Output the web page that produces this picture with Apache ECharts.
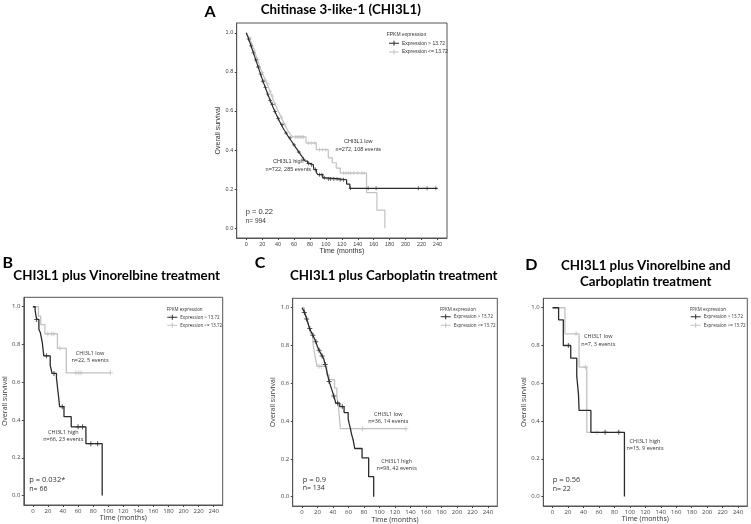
<!DOCTYPE html>
<html><head><meta charset="utf-8">
<script src="https://cdn.jsdelivr.net/npm/echarts@6/dist/echarts.min.js"></script>
<style>html,body{margin:0;padding:0;background:#fff}#c{width:751px;height:524px}</style>
</head><body><div id="c"></div>
<script>
// ---------- data ----------
const xTicks = [0,20,40,60,80,100,120,140,160,180,200,220,240];
const yTicks = [0,0.2,0.4,0.6,0.8,1.0];
const legendNames = ['Expression > 13.72','Expression <= 13.72'];
const legendTitle = 'FPKM expression';
const xName = 'Time (months)';
const yName = 'Overall survival';
const panelLetters = ['A','B','C','D'];
const panelTitles = ['Chitinase 3-like-1 (CHI3L1)','CHI3L1 plus Vinorelbine treatment','CHI3L1 plus Carboplatin treatment','CHI3L1 plus Vinorelbine and\nCarboplatin treatment'];

// Panel A
const aHigh = [[0,1],[1,0.99],[2,0.98],[3,0.967],[4,0.956],[5,0.945],[6,0.933],[7,0.921],[8,0.908],[9,0.897],[10,0.885],[11,0.873],[12,0.861],[13,0.849],[14,0.837],[15,0.825],[16,0.812],[17,0.8],[18,0.788],[19,0.776],[20,0.764],[21,0.752],[22,0.741],[23,0.73],[24,0.719],[25,0.708],[26,0.697],[27,0.686],[28,0.676],[29,0.665],[30,0.654],[32,0.634],[34,0.615],[36,0.597],[38,0.579],[40,0.562],[42,0.545],[44,0.53],[46,0.514],[48,0.5],[50,0.487],[52,0.474],[54,0.462],[56,0.45],[58,0.438],[60,0.426],[62,0.414],[64,0.402],[66,0.39],[68,0.378],[70,0.366],[72,0.354],[74,0.343],[77,0.332],[80,0.325],[84,0.32],[85,0.3],[88,0.285],[90,0.274],[96,0.258],[100,0.252],[118,0.248],[126,0.226],[130,0.204],[240,0.204]];
const aLow = [[0,1],[2,0.986],[4,0.972],[6,0.953],[8,0.933],[10,0.91],[12,0.886],[14,0.864],[16,0.84],[18,0.816],[20,0.796],[22,0.776],[24,0.757],[26,0.739],[28,0.72],[30,0.699],[32,0.676],[34,0.655],[36,0.636],[38,0.618],[40,0.6],[42,0.584],[44,0.567],[46,0.55],[48,0.532],[50,0.516],[52,0.501],[54,0.489],[56,0.478],[58,0.467],[75,0.436],[88,0.402],[103,0.36],[108,0.335],[113,0.308],[118,0.282],[151,0.182],[164,0.093],[174,0]];
const aHighCensor = [3,6,9,12,15,18,21,24,27,30,33,36,40,45,50,55,60,66,72,78,82,87,92,95,98,103,106,110,114,118,122,131,153,163,216,227,238];
const aLowCensor = [5,10,14,20,24,27,30,33,36,44,48,62,64,66,68,70,72,78,82,86,92,96,100,122,125,128,131,135,140,145,148];
const aLowLabel = ['CHI3L1 low','n=272, 108 events'];
const aHighLabel = ['CHI3L1 high','n=722, 285 events'];
const aP = 'p = 0.22', aN = 'n= 994';

// Panel B
const bHigh = [[0,1],[3,0.98],[5,0.933],[8,0.88],[10,0.862],[12.5,0.81],[14.5,0.74],[23,0.69],[25.5,0.647],[31.3,0.624],[32.5,0.58],[34,0.527],[35.5,0.471],[41.3,0.418],[50.9,0.364],[70.4,0.275],[92,0]];
const bLow = [[0,1],[7.4,0.95],[10.4,0.905],[16,0.857],[32.6,0.78],[44.3,0.65],[103,0.65]];
const bHighCensor = [5,18,28,39,60,66,77,86];
const bLowCensor = [20,25,28,36,57,61,64,103];
const bLowLabel = ['CHI3L1 low','n=22, 5 events'];
const bHighLabel = ['CHI3L1 high','n=66, 23 events'];
const bP = 'p = 0.032*', bN = 'n= 66';

// Panel C
const cHigh = [[0,1],[1,0.993],[2,0.986],[3,0.975],[4,0.965],[5,0.955],[6,0.94],[7,0.93],[8,0.915],[9,0.9],[10,0.89],[11,0.88],[12,0.872],[13,0.862],[14,0.854],[15,0.845],[16,0.837],[17,0.828],[18,0.82],[19,0.806],[20,0.793],[21,0.784],[22,0.775],[24,0.76],[26,0.745],[28,0.73],[29,0.714],[30,0.7],[31,0.682],[32,0.665],[33,0.645],[34,0.628],[35,0.61],[36,0.6],[37,0.585],[38,0.572],[39,0.56],[40,0.547],[41,0.533],[42,0.52],[43.5,0.495],[48.7,0.477],[54.3,0.445],[59.6,0.41],[61,0.385],[62.5,0.36],[64,0.33],[66,0.3],[68,0.255],[77.5,0.205],[86,0.106],[92.5,0]];
const cLow = [[0,1],[3,0.985],[5,0.96],[7,0.93],[9,0.9],[11,0.865],[14,0.82],[15.5,0.775],[17.5,0.73],[19.5,0.69],[32,0.645],[35,0.62],[42,0.574],[45,0.53],[47,0.48],[49.5,0.36],[134,0.36]];
const cHighCensor = [3,6,10,14,18,22,26,30,35,41,46,52];
const cLowCensor = [22,25,78,134];
const cLowLabel = ['CHI3L1 low','n=36, 14 events'];
const cHighLabel = ['CHI3L1 high','n=98, 42 events'];
const cP = 'p = 0.9', cN = 'n= 134';

// Panel D
const dHigh = [[0,1],[7.8,0.936],[13.9,0.8],[23.5,0.733],[31.3,0.636],[33.5,0.544],[34.3,0.456],[49.6,0.34],[93,0]];
const dLow = [[0,1],[16,0.862],[34.3,0.686],[44.3,0.34],[57.4,0.34]];
const dHighCensor = [20.4,68,85.6];
const dLowCensor = [30.4,42.6,57.4];
const dLowLabel = ['CHI3L1 low','n=7, 3 events'];
const dHighLabel = ['CHI3L1 high','n=15, 9 events'];
const dP = 'p = 0.56', dN = 'n= 22';

// ---------- styles / layout ----------
const DARK = '#2b2b2b', LIGHT = '#c2c2c2', BORDER = '#555', TXT = '#333';
const PLUS = 'path://M4,0h2v4h4v2h-4v4h-2v-4h-4v-2h4z';
const LEG_ICON = 'path://M0,4h20v2h-20z M9,0h2v10h-2z';

const panels = [
  {high:aHigh, low:aLow, hc:aHighCensor, lc:aLowCensor, lowLab:aLowLabel, highLab:aHighLabel, p:aP, n:aN,
   grid:{left:236.7,top:23,width:210.3,height:215}, font:'Liberation Sans', tick:5.5, yGap:12.5, xGap:8.5, lw:1.2, cs:4, legFont:5,
   legTitle:[386.7,35], legPos:[389,40.8], legGap:3.7, lowAt:[358.3,145.7], highAt:[288.3,165.7], lineH:8, pAt:[245.7,212.3], nAt:[245.7,221.7], pSize:7.5, nSize:6.5,
   letterAt:[210,11.7], titleAt:[340.8,9.5]},
  {high:bHigh, low:bLow, hc:bHighCensor, lc:bLowCensor, lowLab:bLowLabel, highLab:bHighLabel, p:bP, n:bN,
   grid:{left:20.7,top:297.3,width:202,height:207.7}, font:'Open Sans', tick:6, yGap:11.2, xGap:8, lw:1.3, cs:5, legFont:4.5,
   legTitle:[166.7,310], legPos:[167.3,314.8], legGap:3, lowAt:[90,356.7], highAt:[63.3,435.7], lineH:7, pAt:[29.3,480], nAt:[29.3,489], pSize:7.5, nSize:7,
   letterAt:[7.7,263], titleAt:[116.7,275.5]},
  {high:cHigh, low:cLow, hc:cHighCensor, lc:cLowCensor, lowLab:cLowLabel, highLab:cHighLabel, p:cP, n:cN,
   grid:{left:292.7,top:298.3,width:204.6,height:208.4}, font:'Open Sans', tick:6, yGap:10.9, xGap:6.5, lw:1.3, cs:5, legFont:4.5,
   legTitle:[440,310], legPos:[440.7,314.2], legGap:3.6, lowAt:[388.3,418.3], highAt:[396.7,465], lineH:6.8, pAt:[302.7,480], nAt:[302.7,488], pSize:7.5, nSize:7,
   letterAt:[260,263], titleAt:[393.8,275.5]},
  {high:dHigh, low:dLow, hc:dHighCensor, lc:dLowCensor, lowLab:dLowLabel, highLab:dHighLabel, p:dP, n:dN,
   grid:{left:543.3,top:298.3,width:204,height:207.7}, font:'Open Sans', tick:6, yGap:10.8, xGap:7, lw:1.3, cs:5, legFont:4.5,
   legTitle:[690,310], legPos:[690.7,314.2], legGap:3.6, lowAt:[598.3,340.7], highAt:[645,445], lineH:7.6, pAt:[552.7,480], nAt:[552.7,488.7], pSize:7.5, nSize:7,
   letterAt:[531.3,264.7], titleAt:[645.8,273.5]}
];

function survAt(curve, t){
  let s = curve[0][1];
  for (const pt of curve){ if (pt[0] <= t) s = pt[1]; else break; }
  return s;
}

const grids = [], xAxes = [], yAxes = [], series = [], legends = [], graphics = [];
panels.forEach((P, i) => {
  grids.push(Object.assign({show:true, borderColor:BORDER, borderWidth:1, backgroundColor:'transparent', containLabel:false}, P.grid));
  xAxes.push({type:'value', gridIndex:i, min:-12, max:252,
    name:xName, nameLocation:'middle', nameGap:P.xGap, nameTextStyle:{fontSize:7, color:TXT, fontFamily:P.font},
    axisLine:{show:true, onZero:false, lineStyle:{color:BORDER}},
    axisTick:{show:true, length:2, customValues:xTicks, lineStyle:{color:'#444'}},
    axisLabel:{customValues:xTicks, fontSize:P.tick, color:'#444', margin:3, fontFamily:P.font},
    splitLine:{show:false}});
  yAxes.push({type:'value', gridIndex:i, min:-0.05, max:1.05,
    name:yName, nameLocation:'middle', nameGap:P.yGap, nameTextStyle:{fontSize:7, color:TXT, fontFamily:P.font},
    axisLine:{show:true, onZero:false, lineStyle:{color:BORDER}},
    axisTick:{show:true, length:2, customValues:yTicks, lineStyle:{color:'#444'}},
    axisLabel:{customValues:yTicks, fontSize:P.tick, color:'#444', margin:3.5, fontFamily:P.font, formatter:v=>v.toFixed(1)},
    splitLine:{show:false}});
  series.push({type:'line', name:legendNames[1], xAxisIndex:i, yAxisIndex:i, data:P.low, step:'end', showSymbol:false, symbol:'none',
    lineStyle:{color:LIGHT, width:P.lw}, itemStyle:{color:LIGHT}, z:2});
  series.push({type:'line', name:legendNames[0], xAxisIndex:i, yAxisIndex:i, data:P.high, step:'end', showSymbol:false, symbol:'none',
    lineStyle:{color:DARK, width:P.lw}, itemStyle:{color:DARK}, z:3});
  series.push({type:'scatter', name:'censor-low-'+i, xAxisIndex:i, yAxisIndex:i, data:P.lc.map(t=>[t, survAt(P.low,t)]),
    symbol:PLUS, symbolSize:P.cs, itemStyle:{color:LIGHT}, z:2});
  series.push({type:'scatter', name:'censor-high-'+i, xAxisIndex:i, yAxisIndex:i, data:P.hc.map(t=>[t, survAt(P.high,t)]),
    symbol:PLUS, symbolSize:P.cs, itemStyle:{color:DARK}, z:3});
  legends.push({orient:'vertical', left:P.legPos[0], top:P.legPos[1], padding:0, itemWidth:10, itemHeight:5, itemGap:P.legGap,
    selectedMode:false, textStyle:{fontSize:P.legFont, color:TXT, fontFamily:P.font, lineHeight:5, padding:[0,0,0,-2]},
    data:[{name:legendNames[0], icon:LEG_ICON},{name:legendNames[1], icon:LEG_ICON}]});
  graphics.push({type:'text', x:P.legTitle[0], y:P.legTitle[1], style:{text:legendTitle, fontSize:P.legFont, fill:TXT, fontFamily:P.font, verticalAlign:'middle'}});
  graphics.push({type:'text', x:P.lowAt[0], y:P.lowAt[1], style:{text:P.lowLab.join('\n'), fontSize:5.5, lineHeight:P.lineH, fill:TXT, fontFamily:P.font, align:'center', verticalAlign:'middle'}});
  graphics.push({type:'text', x:P.highAt[0], y:P.highAt[1], style:{text:P.highLab.join('\n'), fontSize:5.5, lineHeight:P.lineH, fill:TXT, fontFamily:P.font, align:'center', verticalAlign:'middle'}});
  graphics.push({type:'text', x:P.pAt[0], y:P.pAt[1], style:{text:P.p, fontSize:P.pSize, fill:TXT, fontFamily:P.font, verticalAlign:'middle'}});
  graphics.push({type:'text', x:P.nAt[0], y:P.nAt[1], style:{text:P.n, fontSize:P.nSize, fill:TXT, fontFamily:P.font, verticalAlign:'middle'}});
  graphics.push({type:'text', x:P.letterAt[0], y:P.letterAt[1], style:{text:panelLetters[i], fontSize:16, fontWeight:'bold', fill:'#000', fontFamily:'Lato', align:'center', verticalAlign:'middle'}});
  graphics.push({type:'text', x:P.titleAt[0], y:P.titleAt[1], style:{text:panelTitles[i], fontSize:13.3, lineHeight:16.3, fontWeight:'bold', fill:'#000', fontFamily:'Lato', align:'center', verticalAlign:'middle'}});
});

const chart = echarts.init(document.getElementById('c'), null, {renderer:'canvas'});
chart.setOption({
  animation:false, backgroundColor:'#fff',
  grid:grids, xAxis:xAxes, yAxis:yAxes, series:series, legend:legends,
  graphic:{elements:graphics}
});
</script></body></html>
